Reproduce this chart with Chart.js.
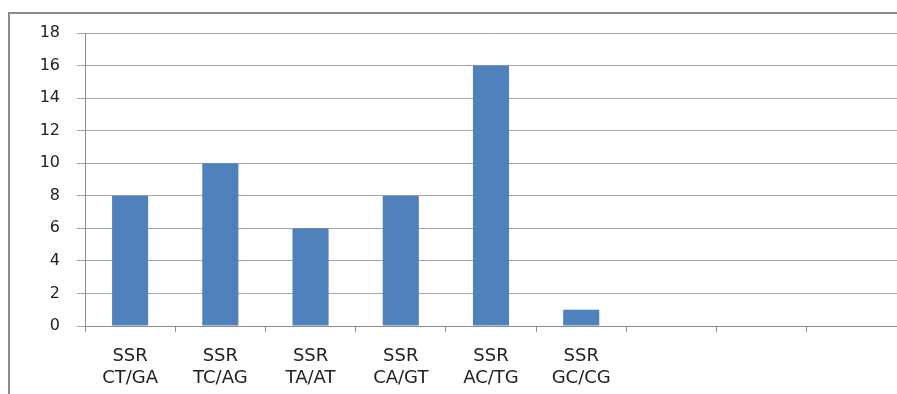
<!DOCTYPE html>
<html>
<head>
<meta charset="utf-8">
<script src="https://cdn.jsdelivr.net/npm/chart.js@4.4.0/dist/chart.umd.min.js"></script>
<style>
  html, body { margin: 0; padding: 0; background: #fff; }
  #wrap { width: 897px; height: 394px; position: relative; }
</style>
</head>
<body>
<div id="wrap"><canvas id="myChart"></canvas></div>
<script>
    // categories (last three are empty slots in the original sheet)
    var labels = [
        ['SSR', 'CT/GA'],
        ['SSR', 'TC/AG'],
        ['SSR', 'TA/AT'],
        ['SSR', 'CA/GT'],
        ['SSR', 'AC/TG'],
        ['SSR', 'GC/CG'],
        '', '', ''
    ];
    var counts = [8, 10, 6, 8, 16, 1, null, null, null];
    var yTicks = [0, 2, 4, 6, 8, 10, 12, 14, 16, 18];

    // outer frame of the chart box
    var framePlugin = {
        id: 'frame',
        beforeDraw: function(chart) {
            var ctx = chart.ctx;
            ctx.save();
            ctx.strokeStyle = '#8c8c8c';
            ctx.lineWidth = 2;
            ctx.beginPath();
            ctx.moveTo(9, 400);
            ctx.lineTo(9, 13);
            ctx.lineTo(900, 13);
            ctx.stroke();
            ctx.restore();
        }
    };

    const ctx = document.getElementById('myChart').getContext('2d');
    var myChart = new Chart(ctx, {
        type: 'bar',
        data: {
            labels: labels,
            datasets: [{
                data: counts,
                backgroundColor: '#4f81bd',
                barPercentage: 0.4,
                categoryPercentage: 1.0
            }]
        },
        options: {
            responsive: true,
            maintainAspectRatio: false,
            animation: false,
            layout: { padding: { top: 33, right: 0, bottom: 0, left: 0 } },
            plugins: {
                legend: { display: false },
                tooltip: { enabled: false }
            },
            scales: {
                x: {
                    grid: {
                        display: true,
                        drawOnChartArea: false,
                        drawTicks: true,
                        tickLength: 6,
                        color: '#8c8c8c',
                        offset: true
                    },
                    border: { color: '#8c8c8c', width: 1 },
                    ticks: {
                        color: '#222',
                        font: { family: 'DejaVu Sans', size: 18 },
                        padding: 14,
                        maxRotation: 0,
                        autoSkip: false
                    },
                    afterFit: function(scale) { scale.height = 68; }
                },
                y: {
                    min: 0,
                    max: 18,
                    afterBuildTicks: function(scale) {
                        scale.ticks = yTicks.map(function(v) { return { value: v }; });
                    },
                    grid: {
                        color: '#a6a6a6',
                        tickLength: 8,
                        lineWidth: 1
                    },
                    border: { color: '#8c8c8c', width: 1 },
                    ticks: {
                        color: '#222',
                        font: { family: 'DejaVu Sans', size: 16 },
                        padding: 17
                    },
                    afterFit: function(scale) { scale.width = 85; }
                }
            }
        },
        plugins: [framePlugin]
    });
</script>
</body>
</html>
